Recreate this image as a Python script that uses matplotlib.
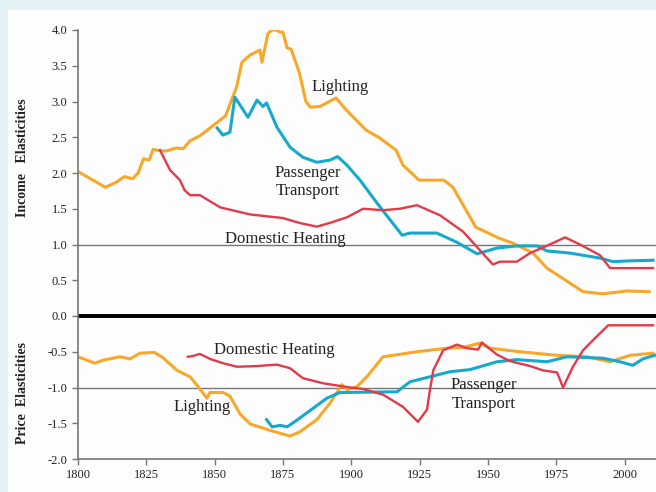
import matplotlib.pyplot as plt
import matplotlib.patches as patches

# Income elasticities (upper half)
light_inc_yr = [1800, 1810, 1814, 1817, 1820, 1822, 1824, 1826, 1827.5, 1830, 1832.5, 1836, 1838.5, 1841,
                1844.6, 1849, 1854, 1858, 1860, 1863, 1866.6, 1867.3, 1869.5, 1871, 1872.4, 1874, 1875,
                1876.5, 1878, 1881, 1883.4, 1885, 1888.5, 1891, 1894.4, 1897.7, 1905.4, 1910, 1916.4,
                1918.9, 1924.8, 1933.9, 1937.2, 1945.6, 1954, 1959, 1966.5, 1971.6, 1984.8, 1992, 2000.9, 2009]
light_inc = [2.02, 1.8, 1.87, 1.95, 1.92, 2.0, 2.2, 2.18, 2.33, 2.31, 2.31, 2.35, 2.34, 2.45,
             2.52, 2.65, 2.8, 3.2, 3.55, 3.65, 3.72, 3.55, 3.95, 4.0, 4.0, 3.97, 3.97,
             3.75, 3.73, 3.4, 3.0, 2.92, 2.93, 2.98, 3.05, 2.9, 2.6, 2.5, 2.32,
             2.11, 1.9, 1.9, 1.8, 1.24, 1.09, 1.02, 0.88, 0.67, 0.34, 0.31, 0.35, 0.34]

trans_inc_yr = [1850.9, 1853, 1855.6, 1857.4, 1862.2, 1865.5, 1867.7, 1869, 1872.8, 1877.6, 1882.3,
                1887.4, 1892.2, 1895, 1898.4, 1903.2, 1909.4, 1918.6, 1921.5, 1931.3, 1938.7, 1946,
                1953.3, 1960.6, 1968, 1971.6, 1980, 1991, 1995.8, 2000.9, 2010.4]
trans_inc = [2.63, 2.53, 2.57, 3.06, 2.78, 3.02, 2.93, 2.98, 2.64, 2.36, 2.22,
             2.15, 2.18, 2.23, 2.11, 1.9, 1.58, 1.13, 1.16, 1.16, 1.03, 0.87,
             0.95, 0.98, 0.98, 0.91, 0.88, 0.81, 0.76, 0.77, 0.78]

heat_inc_yr = [1830, 1833.7, 1837.3, 1839, 1841, 1844.6, 1852, 1863, 1875, 1881.2, 1887.4, 1892,
               1898.4, 1904.3, 1911.6, 1917.8, 1924, 1932.4, 1940.9, 1951.8, 1954.4, 1960.6, 1965.4,
               1973.8, 1978.2, 1983.7, 1991, 1994.7, 2010.4]
heat_inc = [2.32, 2.04, 1.9, 1.76, 1.69, 1.69, 1.52, 1.42, 1.37, 1.3, 1.25, 1.3,
            1.38, 1.5, 1.48, 1.5, 1.55, 1.41, 1.18, 0.72, 0.76, 0.76, 0.88,
            1.02, 1.1, 1.0, 0.85, 0.67, 0.67]

# Price elasticities (lower half)
light_pr_yr = [1800, 1806.2, 1809, 1815.4, 1819, 1822.7, 1828, 1831, 1836.2, 1841, 1844, 1847.2, 1848.3,
               1853, 1855.6, 1859.3, 1863, 1870.3, 1877.6, 1881.2, 1887.4, 1892.2, 1896.6, 1898.4, 1902,
               1905.7, 1911.6, 1915.3, 1924, 1935, 1940.9, 1947.1, 1950.7, 1961.7, 1975.3, 1986.2,
               1994.7, 2002, 2010.4]
light_pr = [-0.57, -0.66, -0.62, -0.57, -0.6, -0.52, -0.51, -0.58, -0.76, -0.85, -0.99, -1.15, -1.07,
            -1.07, -1.12, -1.37, -1.51, -1.6, -1.68, -1.62, -1.45, -1.22, -0.96, -1.03, -0.99,
            -0.85, -0.57, -0.55, -0.5, -0.45, -0.44, -0.38, -0.45, -0.5, -0.55, -0.57,
            -0.64, -0.55, -0.52]

trans_pr_yr = [1869, 1871, 1874, 1876.5, 1880, 1885, 1891, 1895.9, 1916.7, 1921.5, 1928.8, 1936,
               1943.4, 1953.3, 1960.6, 1971.6, 1978.9, 1992, 1998.3, 2003, 2006.7, 2011]
trans_pr = [-1.45, -1.55, -1.53, -1.55, -1.46, -1.32, -1.15, -1.07, -1.06, -0.92, -0.85, -0.78,
            -0.75, -0.64, -0.61, -0.64, -0.57, -0.59, -0.64, -0.69, -0.6, -0.55]

heat_pr_yr = [1840.2, 1842, 1844.6, 1848.3, 1853, 1858.2, 1865.5, 1872.8, 1877.6, 1882.3, 1889.6,
              1899.5, 1904.3, 1911.6, 1918.9, 1924.4, 1927.7, 1928.8, 1930, 1933.6, 1938.7, 1942.3,
              1946.4, 1947.8, 1953.3, 1958, 1965.4, 1970.1, 1975.3, 1977.5, 1981.1, 1984.8, 1988.4,
              1994, 2010.4]
heat_pr = [-0.57, -0.56, -0.53, -0.6, -0.66, -0.71, -0.7, -0.68, -0.73, -0.87, -0.94,
           -1.0, -1.02, -1.1, -1.27, -1.48, -1.31, -1.03, -0.76, -0.48, -0.4, -0.45,
           -0.47, -0.37, -0.54, -0.63, -0.7, -0.76, -0.79, -1.0, -0.71, -0.48, -0.34,
           -0.13, -0.13]

yticks = [-2.0, -1.5, -1.0, -0.5, 0.0, 0.5, 1.0, 1.5, 2.0, 2.5, 3.0, 3.5, 4.0]
xticks = [1800, 1825, 1850, 1875, 1900, 1925, 1950, 1975, 2000]

orange = '#f7a82a'
cyan = '#17a9cc'
red = '#e23a48'
serif = 'Liberation Serif'

fig = plt.figure(figsize=(6.56, 4.92), dpi=100, facecolor='#e4f1f6')
fig.patches.append(patches.Rectangle((8 / 656, 0), 1, 1 - 10 / 492, transform=fig.transFigure,
                                     facecolor='#fdfdfd', edgecolor='none', zorder=-1))
ax = fig.add_axes([78 / 656, 33 / 492, 1 - 78 / 656, 429 / 492])
ax.set_facecolor('none')

ax.axhline(1.0, color='#777777', lw=1)
ax.axhline(-1.0, color='#777777', lw=1)
ax.axhline(0.0, color='black', lw=2.8)

ax.plot(light_inc_yr, light_inc, color=orange, lw=2.2)
ax.plot(trans_inc_yr, trans_inc, color=cyan, lw=2.2)
ax.plot(heat_inc_yr, heat_inc, color=red, lw=1.7)
ax.plot(light_pr_yr, light_pr, color=orange, lw=2.2)
ax.plot(trans_pr_yr, trans_pr, color=cyan, lw=2.2)
ax.plot(heat_pr_yr, heat_pr, color=red, lw=1.7)

ax.set_xlim(1800, 2011.5)
ax.set_ylim(-2.0, 4.0)
ax.set_xticks(xticks)
ax.set_yticks(yticks)
ax.set_yticklabels([f'{v:.1f}' for v in yticks])
for lab in ax.get_xticklabels() + ax.get_yticklabels():
    lab.set_fontfamily(serif)
    lab.set_fontsize(9)
    lab.set_color('#222222')
ax.tick_params(direction='out', length=4, color='#777777', width=1)
for s in ['top', 'right']:
    ax.spines[s].set_visible(False)
for s in ['left', 'bottom']:
    ax.spines[s].set_color('#777777')
    ax.spines[s].set_linewidth(1.2)

txt = dict(family=serif, fontsize=12, color='#222222', ha='center', va='center')
ax.text(1896, 3.2, 'Lighting', **txt)
ax.text(1884, 1.87, 'Passenger\nTransport', linespacing=1.2, **txt)
ax.text(1875.7, 1.08, 'Domestic Heating', **txt)
ax.text(1872, -0.47, 'Domestic Heating', **txt)
ax.text(1845.4, -1.27, 'Lighting', **txt)
ax.text(1948.5, -1.1, 'Passenger\nTransport', linespacing=1.2, **txt)

ylab = dict(family=serif, fontsize=10, fontweight='bold', color='#222222',
            rotation=90, ha='center', va='center', transform=fig.transFigure)
fig.text(23 / 656, 1 - 158 / 492, 'Income   Elasticities', **ylab)
fig.text(23 / 656, 1 - 393 / 492, 'Price  Elasticities', **ylab)

fig.savefig('out.png', dpi=100, facecolor=fig.get_facecolor())
